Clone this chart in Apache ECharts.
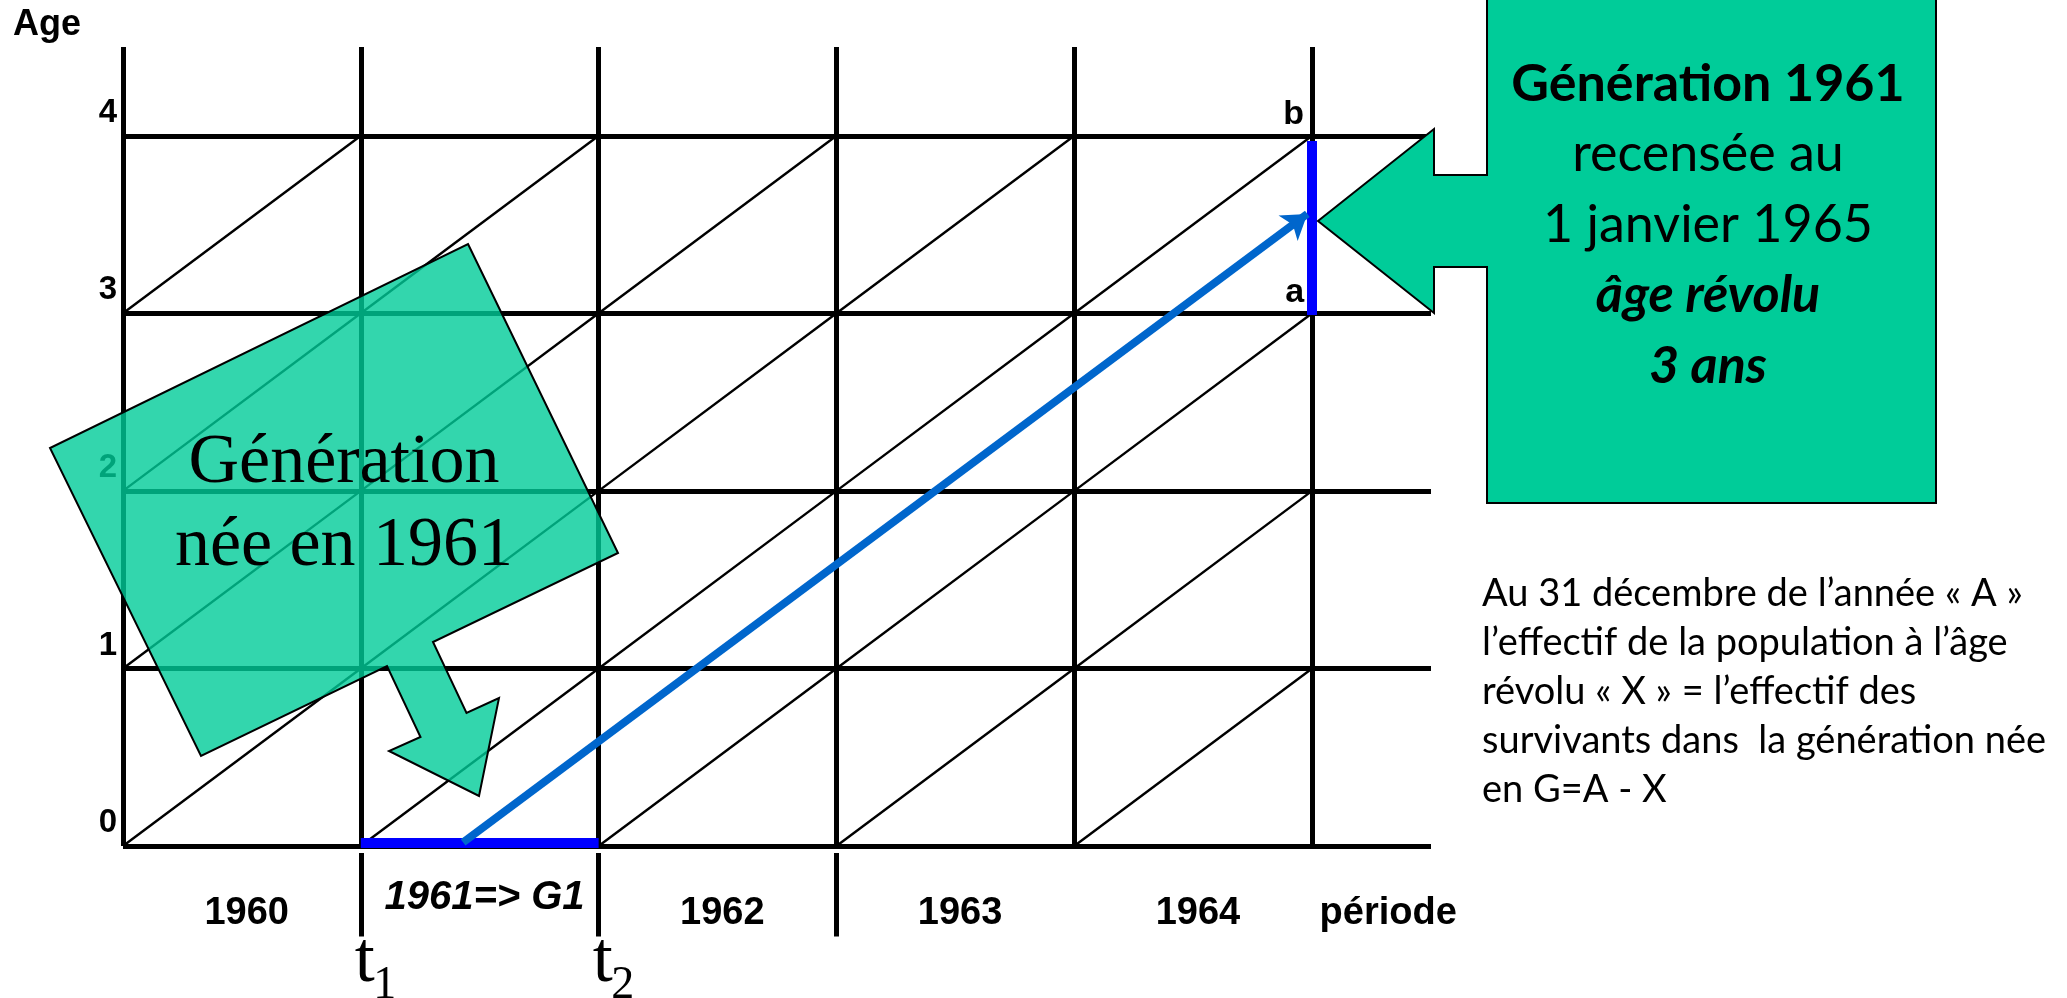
<!DOCTYPE html>
<html><head><meta charset="utf-8">
<script src="https://cdn.jsdelivr.net/npm/echarts@6/dist/echarts.min.js"></script>
<style>html,body{margin:0;padding:0;background:#fff}#c{width:2067px;height:998px}</style>
</head><body><div id="c"></div>
<script>
// ---- data ----
const years = [1960, 1961, 1962, 1963, 1964, 1965];
const ages = [0, 1, 2, 3, 4];
const xMax = 1965.5;
const yMax = 4.5;
const yearLabels = ['1960', '1961=> G1', '1962', '1963', '1964'];
const periodLabel = 'période';
const ageTitle = 'Age';
const separatorYears = [1961, 1962, 1963];
const tYears = [1961, 1962];
const tSubs = ['1', '2'];
const birthSegment = [[1961, 0.02], [1962, 0.02]];
const censusSegment = [[1965, 2.99], [1965, 3.97]];
const cohortArrow = [[1961.43, 0.02], [1964.98, 3.56]];
const abNames = ['a', 'b'];
const abAges = [3, 4];
const leftCalloutLines = ['Génération', 'née en 1961'];
const rightCalloutLines = ['Génération 1961', 'recensée au', '1 janvier 1965', 'âge révolu', '3 ans'];
const noteLines = [
  'Au 31 décembre de l’année « A »',
  'l’effectif de la population à l’âge',
  'révolu « X » = l’effectif des',
  'survivants dans  la génération née',
  'en G=A - X'
];

// ---- build ----
const ARIAL = '"Liberation Sans", Arial, sans-serif';
const TIMES = '"Liberation Serif", "Times New Roman", serif';
const CALIBRI = 'Lato, "Open Sans", sans-serif';

const gridLines = [];
years.forEach(y => gridLines.push({coords: [[y, 0], [y, yMax]]}));
ages.forEach(a => gridLines.push({coords: [[years[0], a], [xMax, a]]}));
separatorYears.forEach(y => gridLines.push({coords: [[y, -0.04], [y, -0.51]]}));

const diagonals = [];
years.slice(0, -1).forEach(y => ages.slice(0, -1).forEach(a => {
  diagonals.push({coords: [[y, a], [y + 1, a + 1]]});
}));

const yearLabelData = yearLabels.map((t, i) => {
  const item = {value: [years[i] + 0.52, -0.38, t]};
  if (i === 1) item.label = {fontStyle: 'italic', fontSize: 40, offset: [0, -15]};
  return item;
});
yearLabelData.push({value: [1965.32, -0.38, periodLabel]});

const txtSeries = (data, label) => ({
  type: 'scatter', z: 6, symbolSize: 0, silent: true,
  itemStyle: {opacity: 1}, data: data,
  label: Object.assign({show: true, color: '#000', opacity: 1, formatter: p => p.value[2]}, label)
});

const chart = echarts.init(document.getElementById('c'), null, {renderer: 'canvas'});
chart.setOption({
  animation: false,
  backgroundColor: '#ffffff',
  grid: {left: 123, right: 2067 - 1431, top: 47, bottom: 10, containLabel: false},
  xAxis: {type: 'value', min: years[0], max: xMax, show: false},
  yAxis: {type: 'value', min: -0.8, max: yMax, show: false},
  series: [
    {type: 'lines', coordinateSystem: 'cartesian2d', z: 2, silent: true,
     lineStyle: {color: '#000', width: 5, opacity: 1, cap: 'butt'}, data: gridLines},
    {type: 'lines', coordinateSystem: 'cartesian2d', z: 3, silent: true,
     lineStyle: {color: '#000', width: 2.4, opacity: 1}, data: diagonals},
    {type: 'lines', coordinateSystem: 'cartesian2d', z: 4, silent: true,
     lineStyle: {color: '#0000ff', width: 10, opacity: 1, cap: 'butt'},
     data: [{coords: birthSegment}, {coords: censusSegment}]},
    {type: 'lines', coordinateSystem: 'cartesian2d', z: 5, silent: true,
     symbol: ['none', 'arrow'], symbolSize: 24,
     lineStyle: {color: '#0066cc', width: 8, opacity: 1},
     data: [{coords: cohortArrow}]},
    // age tick labels
    txtSeries(ages.map(a => [years[0], a, String(a)]),
      {position: 'left', distance: 6, offset: [0, -23], fontFamily: ARIAL, fontWeight: 'bold', fontSize: 33}),
    // year labels
    txtSeries(yearLabelData,
      {position: 'inside', fontFamily: ARIAL, fontWeight: 'bold', fontSize: 38}),
    // a / b
    txtSeries(abNames.map((n, i) => [censusSegment[0][0], abAges[i], n]),
      {position: 'left', distance: 8, offset: [0, -21], fontFamily: ARIAL, fontWeight: 'bold', fontSize: 34}),
    // t marks
    txtSeries(tYears.map(y => [y, -0.6, 't']),
      {position: 'inside', offset: [4, 10], fontFamily: TIMES, fontSize: 72}),
    txtSeries(tYears.map((y, i) => [y, -0.6, tSubs[i]]),
      {position: 'inside', offset: [24, 33], fontFamily: TIMES, fontSize: 46})
  ],
  graphic: [
    {type: 'text', z: 20, style: {x: 13, y: 25.5, text: ageTitle, fill: '#000',
      fontFamily: ARIAL, fontWeight: 'bold', fontSize: 36, align: 'left', verticalAlign: 'middle'}},
    {type: 'polygon', z: 10,
     shape: {points: [[468, 244], [618, 553], [433, 642], [466.5, 713], [499, 698], [479, 796],
                      [389, 751], [420.5, 737], [387, 666], [201, 756], [50, 448]]},
     style: {fill: 'rgba(0,204,153,0.8)', stroke: '#000', lineWidth: 2}},
    {type: 'text', z: 11, style: {x: 344, y: 505.5, text: leftCalloutLines.join('\n'), fill: '#000',
      fontFamily: TIMES, fontSize: 70, lineHeight: 83, align: 'center', verticalAlign: 'middle'}},
    {type: 'polygon', z: 10,
     shape: {points: [[1487, -5], [1936, -5], [1936, 503], [1487, 503], [1487, 267], [1434, 267],
                      [1434, 313], [1318, 221], [1434, 129], [1434, 175], [1487, 175]]},
     style: {fill: '#00cc99', stroke: '#000', lineWidth: 2}},
    {type: 'text', z: 11, style: {x: 1708, y: 225,
      text: '{b|' + rightCalloutLines[0] + '}\n{r|' + rightCalloutLines[1] + '}\n{r|' + rightCalloutLines[2] +
            '}\n{bi|' + rightCalloutLines[3] + '}\n{bi|' + rightCalloutLines[4] + '}',
      align: 'center', verticalAlign: 'middle', fill: '#000',
      rich: {
        b: {fontFamily: CALIBRI, fontWeight: 'bold', fontSize: 52, lineHeight: 70.5, fill: '#000'},
        r: {fontFamily: CALIBRI, fontSize: 52, lineHeight: 70.5, fill: '#000'},
        bi: {fontFamily: CALIBRI, fontWeight: 'bold', fontStyle: 'italic', fontSize: 52, lineHeight: 70.5, fill: '#000'}
      }}},
    {type: 'text', z: 11, style: {x: 1482, y: 569, text: noteLines.join('\n'), fill: '#000',
      fontFamily: CALIBRI, fontSize: 38, lineHeight: 49, align: 'left', verticalAlign: 'top'}}
  ]
});
</script></body></html>
